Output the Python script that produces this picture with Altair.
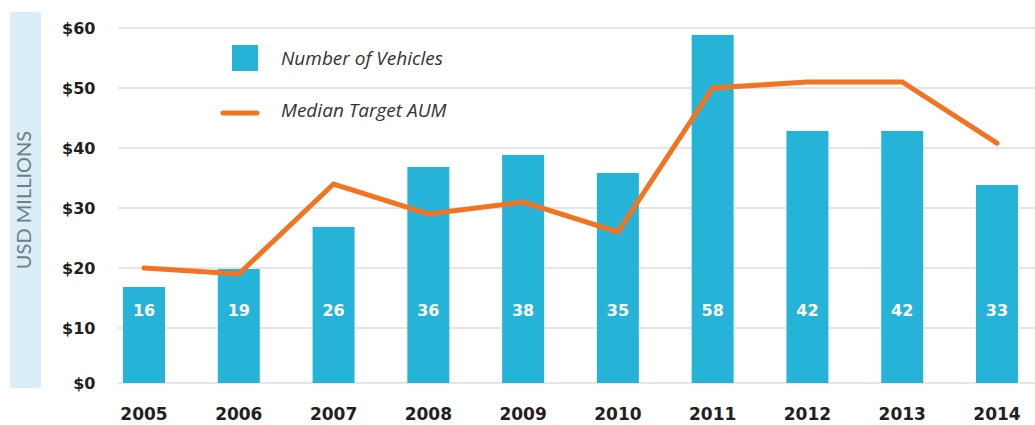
import altair as alt
import pandas as pd

years = ["2005", "2006", "2007", "2008", "2009", "2010", "2011", "2012", "2013", "2014"]
vehicles = [16, 19, 26, 36, 38, 35, 58, 42, 42, 33]
median_aum = [20, 19, 34, 29, 31, 26, 50, 51, 51, 40.8]
grid_values = [0, 10, 20, 30, 40, 50, 60]

BLUE = "#25b4d8"
ORANGE = "#f47321"
DARK = "#231f20"

df = pd.DataFrame({"year": years, "vehicles": vehicles, "aum": median_aum})
grid_df = pd.DataFrame({"v": grid_values})

W, H = 905, 360

xscale = alt.Scale(domain=years, paddingInner=0.557, paddingOuter=0.053)
yscale = alt.Scale(domain=[0, 60], nice=False, zero=True)

xenc = alt.X("year:N", scale=xscale, sort=years,
             axis=alt.Axis(title=None, domain=False, ticks=False, labelAngle=0,
                           labelFont="DejaVu Sans", labelFontWeight="bold",
                           labelFontSize=17, labelColor=DARK, labelPadding=18))

# decorative band behind y title
band = alt.Chart(pd.DataFrame({"t": ["USD MILLIONS"]})).mark_rect(color="#d9eef7").encode(
    x=alt.value(-108), x2=alt.value(-77), y=alt.value(-16), y2=alt.value(360)
)
ytitle = alt.Chart(pd.DataFrame({"t": ["USD MILLIONS"]})).mark_text(
    angle=270, font="Lato", fontSize=20, color="#6f7f88",
    align="center", baseline="middle"
).encode(x=alt.value(-93), y=alt.value(172), text="t:N")

grid = alt.Chart(grid_df).transform_filter(alt.datum.v > 0).mark_rule(
    color="#e6e6e6", strokeWidth=2
).encode(
    y=alt.Y("v:Q", scale=yscale,
            axis=alt.Axis(title=None, domain=False, ticks=False, grid=False, values=grid_values,
                          labelExpr="'$' + datum.value", labelFont="DejaVu Sans",
                          labelFontWeight="bold", labelFontSize=16, labelColor=DARK,
                          labelPadding=23,
                          labelOffset={"condition": {"test": "datum.value == 0", "value": -5}, "value": 0})),
    x=alt.value(0), x2=alt.value(917),
)
grid0 = alt.Chart(grid_df).transform_filter(alt.datum.v == 0).mark_rule(
    color="#e6e6e6", strokeWidth=2, yOffset=-5
).encode(y=alt.Y("v:Q", scale=yscale), x=alt.value(0), x2=alt.value(917))

bars = alt.Chart(df).mark_bar(color=BLUE, yOffset=-5).encode(
    x=xenc, y=alt.Y("vehicles:Q", scale=yscale)
)

bar_labels = alt.Chart(df).mark_text(
    font="DejaVu Sans", fontWeight="bold", fontSize=16, color="white", baseline="middle"
).encode(x=alt.X("year:N", scale=xscale, sort=years), y=alt.value(283), text="vehicles:Q")

line = alt.Chart(df).mark_line(color=ORANGE, strokeWidth=5, strokeCap="round", strokeJoin="miter").encode(
    x=alt.X("year:N", scale=xscale, sort=years), y=alt.Y("aum:Q", scale=yscale)
)

# legend
leg_sq = alt.Chart(pd.DataFrame({"t": ["Number of Vehicles"]})).mark_rect(color=BLUE).encode(
    x=alt.value(114), x2=alt.value(140), y=alt.value(17), y2=alt.value(43)
)
leg_line = alt.Chart(pd.DataFrame({"t": ["Median Target AUM"]})).mark_rule(
    color=ORANGE, strokeWidth=5, strokeCap="round"
).encode(x=alt.value(105), x2=alt.value(139), y=alt.value(85))
leg_text = alt.Chart(pd.DataFrame({"t": ["Number of Vehicles", "Median Target AUM"],
                                    "p": [31, 83]})).mark_text(
    font="Open Sans", fontStyle="italic", fontSize=19, color="#333333", align="left", baseline="middle"
).encode(x=alt.value(163), y=alt.Y("p:Q", scale=None), text="t:N")

chart = alt.layer(band, ytitle, grid0, grid, bars, bar_labels, line, leg_sq, leg_line, leg_text).properties(
    width=W, height=H,
    autosize=alt.AutoSizeParams(type="none"),
    padding={"left": 118, "top": 28, "right": 12, "bottom": 37},
    background="white",
).configure_view(stroke=None)

chart.save("out.html", embed_options={"renderer": "svg", "actions": False})
